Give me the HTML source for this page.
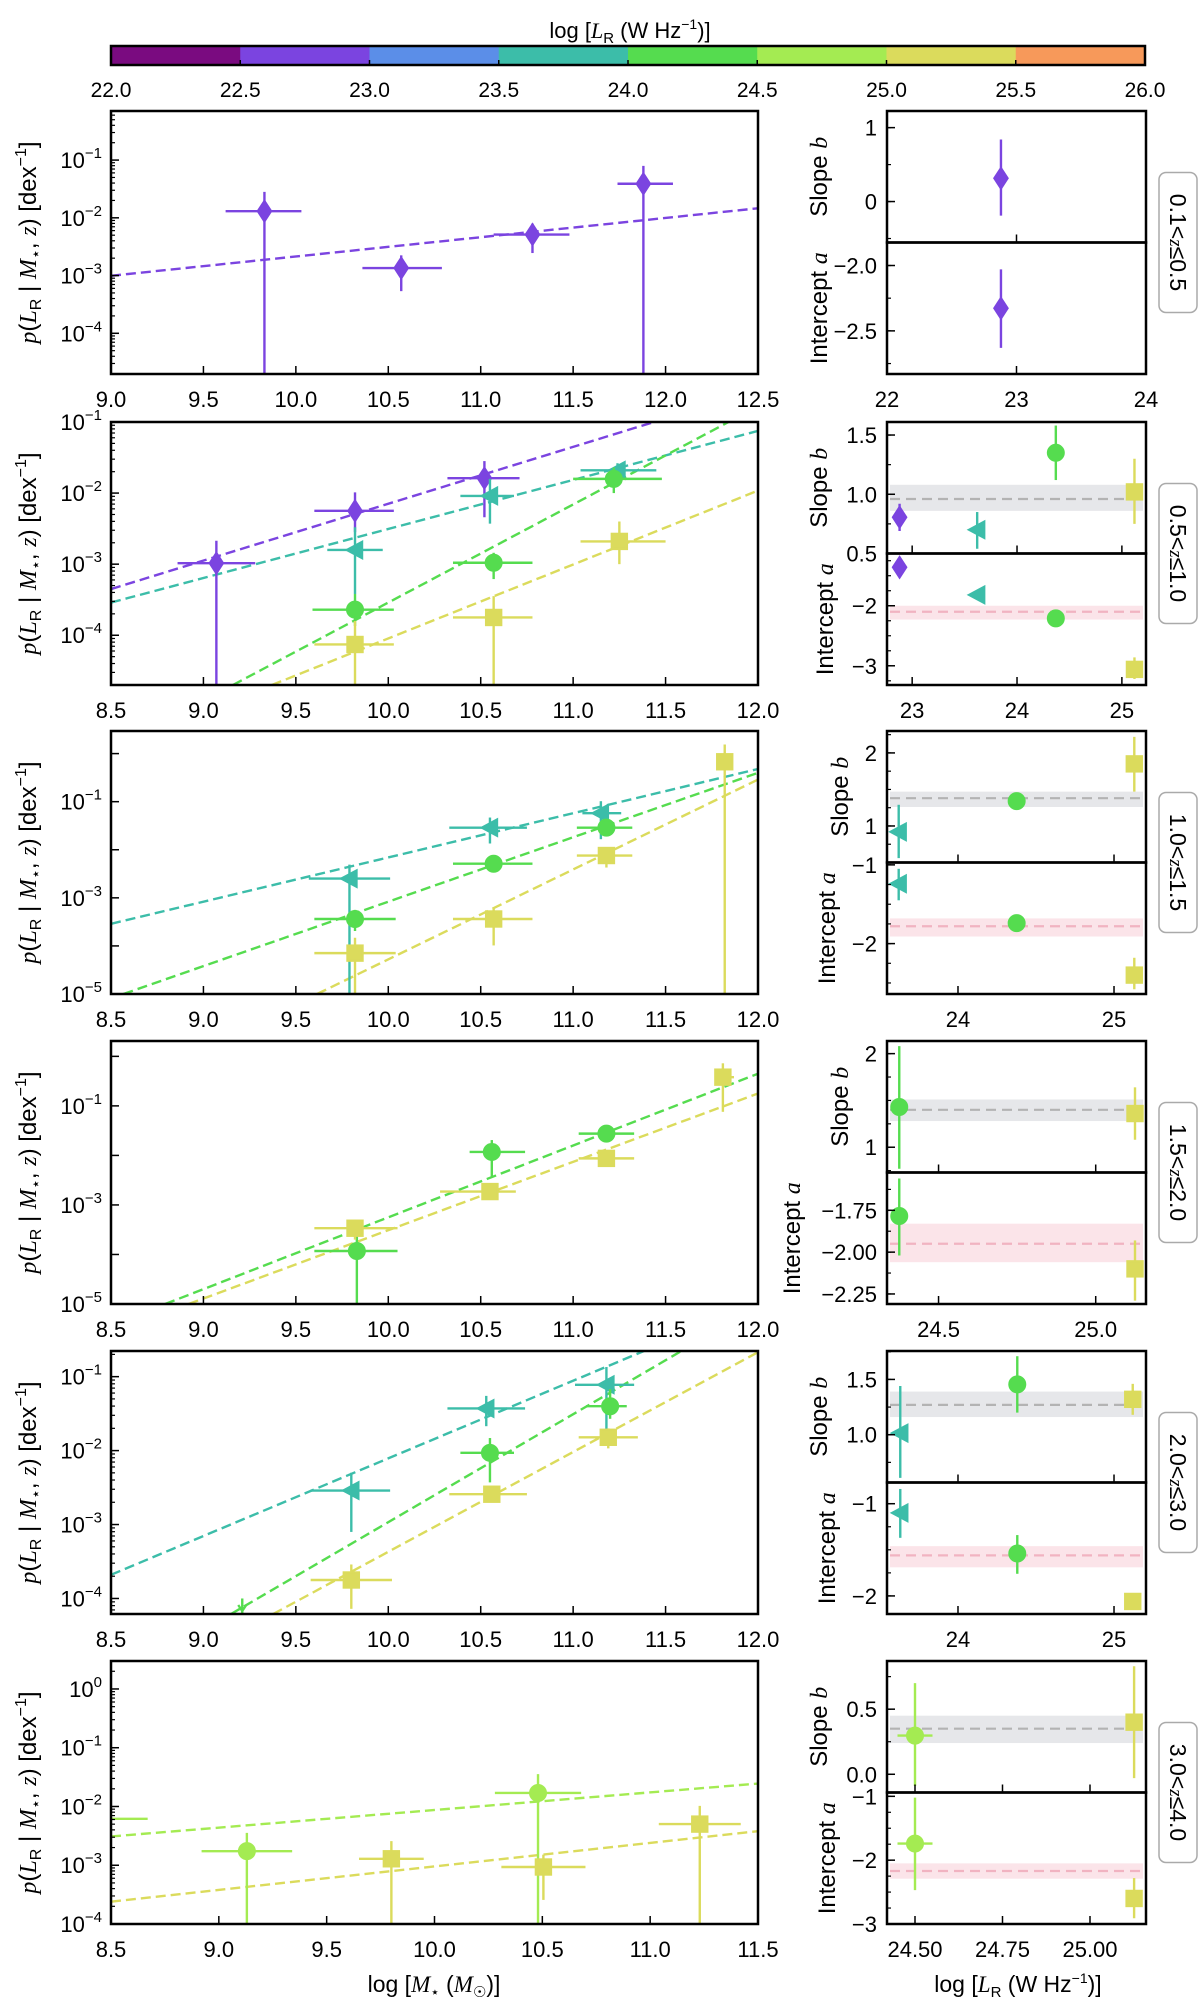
<!DOCTYPE html>
<html><head><meta charset="utf-8">
<style>
html,body{margin:0;padding:0;background:#fff;width:1200px;height:2010px;overflow:hidden;}
svg{display:block;font-family:"Liberation Sans","DejaVu Sans",sans-serif;overflow:hidden;}
.it{font-family:"Liberation Serif",serif;font-style:italic;}
</style></head>
<body>
<svg id="fig" width="1200" height="2010" viewBox="0 0 1200 2010" xmlns="http://www.w3.org/2000/svg">
<g id="cbar"></g>
<text x="630" y="38" text-anchor="middle" font-size="22">log [<tspan class="it">L</tspan><tspan font-size="15" dy="5">R</tspan><tspan dy="-5"> (W Hz</tspan><tspan font-size="14" dy="-9">−1</tspan><tspan dy="9">)]</tspan></text>
<g id="panels"></g>
<g font-size="24">
<text transform="translate(36,242.5) rotate(-90)" text-anchor="middle"><tspan class="it">p</tspan>(<tspan class="it">L</tspan><tspan font-size="16" dy="5">R</tspan><tspan dy="-5"> | </tspan><tspan class="it">M</tspan><tspan font-size="16" dy="5">⋆</tspan><tspan dy="-5">, </tspan><tspan class="it">z</tspan>) [dex<tspan font-size="16" dy="-10">−1</tspan><tspan dy="10">]</tspan></text>
<text transform="translate(36,553.5) rotate(-90)" text-anchor="middle"><tspan class="it">p</tspan>(<tspan class="it">L</tspan><tspan font-size="16" dy="5">R</tspan><tspan dy="-5"> | </tspan><tspan class="it">M</tspan><tspan font-size="16" dy="5">⋆</tspan><tspan dy="-5">, </tspan><tspan class="it">z</tspan>) [dex<tspan font-size="16" dy="-10">−1</tspan><tspan dy="10">]</tspan></text>
<text transform="translate(36,862.5) rotate(-90)" text-anchor="middle"><tspan class="it">p</tspan>(<tspan class="it">L</tspan><tspan font-size="16" dy="5">R</tspan><tspan dy="-5"> | </tspan><tspan class="it">M</tspan><tspan font-size="16" dy="5">⋆</tspan><tspan dy="-5">, </tspan><tspan class="it">z</tspan>) [dex<tspan font-size="16" dy="-10">−1</tspan><tspan dy="10">]</tspan></text>
<text transform="translate(36,1172.5) rotate(-90)" text-anchor="middle"><tspan class="it">p</tspan>(<tspan class="it">L</tspan><tspan font-size="16" dy="5">R</tspan><tspan dy="-5"> | </tspan><tspan class="it">M</tspan><tspan font-size="16" dy="5">⋆</tspan><tspan dy="-5">, </tspan><tspan class="it">z</tspan>) [dex<tspan font-size="16" dy="-10">−1</tspan><tspan dy="10">]</tspan></text>
<text transform="translate(36,1482.5) rotate(-90)" text-anchor="middle"><tspan class="it">p</tspan>(<tspan class="it">L</tspan><tspan font-size="16" dy="5">R</tspan><tspan dy="-5"> | </tspan><tspan class="it">M</tspan><tspan font-size="16" dy="5">⋆</tspan><tspan dy="-5">, </tspan><tspan class="it">z</tspan>) [dex<tspan font-size="16" dy="-10">−1</tspan><tspan dy="10">]</tspan></text>
<text transform="translate(36,1792.5) rotate(-90)" text-anchor="middle"><tspan class="it">p</tspan>(<tspan class="it">L</tspan><tspan font-size="16" dy="5">R</tspan><tspan dy="-5"> | </tspan><tspan class="it">M</tspan><tspan font-size="16" dy="5">⋆</tspan><tspan dy="-5">, </tspan><tspan class="it">z</tspan>) [dex<tspan font-size="16" dy="-10">−1</tspan><tspan dy="10">]</tspan></text>
</g>
<g font-size="24">
<text transform="translate(827,176.75) rotate(-90)" text-anchor="middle">Slope <tspan class="it">b</tspan></text>
<text transform="translate(827,308.25) rotate(-90)" text-anchor="middle">Intercept <tspan class="it">a</tspan></text>
<text transform="translate(827,487.75) rotate(-90)" text-anchor="middle">Slope <tspan class="it">b</tspan></text>
<text transform="translate(833,619.25) rotate(-90)" text-anchor="middle">Intercept <tspan class="it">a</tspan></text>
<text transform="translate(848,796.75) rotate(-90)" text-anchor="middle">Slope <tspan class="it">b</tspan></text>
<text transform="translate(835,928.25) rotate(-90)" text-anchor="middle">Intercept <tspan class="it">a</tspan></text>
<text transform="translate(848,1106.75) rotate(-90)" text-anchor="middle">Slope <tspan class="it">b</tspan></text>
<text transform="translate(800,1238.25) rotate(-90)" text-anchor="middle">Intercept <tspan class="it">a</tspan></text>
<text transform="translate(827,1416.75) rotate(-90)" text-anchor="middle">Slope <tspan class="it">b</tspan></text>
<text transform="translate(835,1548.25) rotate(-90)" text-anchor="middle">Intercept <tspan class="it">a</tspan></text>
<text transform="translate(827,1726.75) rotate(-90)" text-anchor="middle">Slope <tspan class="it">b</tspan></text>
<text transform="translate(835,1858.25) rotate(-90)" text-anchor="middle">Intercept <tspan class="it">a</tspan></text>
</g>
<g font-size="23">
<rect x="1159" y="172.5" width="38" height="140" rx="7" fill="#fff" stroke="#aaa" stroke-width="1.5"/>
<text transform="translate(1170,242.5) rotate(90)" text-anchor="middle">0.1&lt;<tspan class="it" font-size="19">z</tspan>≤0.5</text>
<rect x="1159" y="483.5" width="38" height="140" rx="7" fill="#fff" stroke="#aaa" stroke-width="1.5"/>
<text transform="translate(1170,553.5) rotate(90)" text-anchor="middle">0.5&lt;<tspan class="it" font-size="19">z</tspan>≤1.0</text>
<rect x="1159" y="792.5" width="38" height="140" rx="7" fill="#fff" stroke="#aaa" stroke-width="1.5"/>
<text transform="translate(1170,862.5) rotate(90)" text-anchor="middle">1.0&lt;<tspan class="it" font-size="19">z</tspan>≤1.5</text>
<rect x="1159" y="1102.5" width="38" height="140" rx="7" fill="#fff" stroke="#aaa" stroke-width="1.5"/>
<text transform="translate(1170,1172.5) rotate(90)" text-anchor="middle">1.5&lt;<tspan class="it" font-size="19">z</tspan>≤2.0</text>
<rect x="1159" y="1412.5" width="38" height="140" rx="7" fill="#fff" stroke="#aaa" stroke-width="1.5"/>
<text transform="translate(1170,1482.5) rotate(90)" text-anchor="middle">2.0&lt;<tspan class="it" font-size="19">z</tspan>≤3.0</text>
<rect x="1159" y="1722.5" width="38" height="140" rx="7" fill="#fff" stroke="#aaa" stroke-width="1.5"/>
<text transform="translate(1170,1792.5) rotate(90)" text-anchor="middle">3.0&lt;<tspan class="it" font-size="19">z</tspan>≤4.0</text>
</g>
<text x="434" y="1992" text-anchor="middle" font-size="23">log [<tspan class="it">M</tspan><tspan font-size="15" dy="5">⋆</tspan><tspan dy="-5"> (</tspan><tspan class="it">M</tspan><tspan font-size="15" dy="5">☉</tspan><tspan dy="-5">)]</tspan></text>
<text x="1018" y="1992" text-anchor="middle" font-size="23">log [<tspan class="it">L</tspan><tspan font-size="15" dy="5">R</tspan><tspan dy="-5"> (W Hz</tspan><tspan font-size="14" dy="-9">−1</tspan><tspan dy="9">)]</tspan></text>
</svg>
<script>
// ---------- data ----------
const binColors=['#7a0b80','#7b44e0','#5b8ee8','#3cbda9','#55dc4f','#a4eb52','#dbdb5c','#f7995a'];
const cbarTicks=['22.0','22.5','23.0','23.5','24.0','24.5','25.0','25.5','26.0'];
const ptBin=[[1,1,1,1],[1,1,1,3,3,3,4,4,4,6,6,6],[3,3,3,4,4,4,6,6,6,6],[4,4,4,6,6,6,6],[3,3,3,4,4,6,6,6],[5,5,5,6,6,6]];
const ptX=[[9.83,10.57,11.28,11.88],[9.07,9.82,10.52,9.82,10.55,11.24,9.82,10.57,11.22,9.82,10.57,11.25],[9.79,10.55,11.15,9.82,10.57,11.18,9.82,10.57,11.18,11.82],[9.83,10.56,11.18,9.82,10.55,11.18,11.81],[9.80,10.53,11.18,10.55,11.2,9.80,10.56,11.19],[8.3,9.13,10.48,9.80,10.505,11.23]];
const ptY=[[-1.885,-2.87,-2.29,-1.41],[-2.986,-2.25,-1.79,-2.80,-2.04,-1.68,-3.64,-2.98,-1.80,-4.13,-3.75,-2.68],[-2.60,-1.54,-1.24,-3.44,-2.29,-1.54,-4.15,-3.44,-2.12,-0.17],[-3.93,-1.93,-1.56,-3.47,-2.73,-2.06,-0.42],[-2.54,-1.43,-1.11,-2.03,-1.40,-3.75,-2.59,-1.82],[-2.21,-2.76,-1.77,-2.89,-3.03,-2.30]];
const ptXlo=[[9.62,10.36,11.07,11.74],[8.86,9.60,10.32,9.67,10.39,11.04,9.59,10.35,11.0,9.6,10.35,11.04],[9.57,10.33,11.05,9.6,10.35,11.02,9.6,10.35,11.02,11.80],[9.6,10.44,11.03,9.6,10.28,11.03,11.77],[9.58,10.32,11.01,10.39,11.07,9.58,10.33,11.03],[8.0,8.92,10.28,9.65,10.31,11.04]];
const ptXhi=[[10.03,10.79,11.48,12.04],[9.28,10.03,10.71,9.97,10.68,11.45,10.03,10.78,11.48,10.03,10.78,11.5],[10.01,10.75,11.26,10.04,10.78,11.32,10.04,10.78,11.32,11.84],[10.05,10.74,11.33,10.05,10.69,11.33,11.87],[10.01,10.74,11.33,10.68,11.29,10.02,10.75,11.35],[8.67,9.34,10.68,9.95,10.70,11.42]];
const ptYlo=[[-10,-3.27,-2.61,-10],[-10,-2.55,-2.34,-3.42,-2.43,-1.78,-3.87,-3.21,-2.0,-10,-10,-3.0],[-10,-1.87,-1.78,-3.69,-2.33,-1.72,-10,-3.99,-2.37,-10],[-10,-2.43,-1.62,-3.7,-2.8,-2.16,-1.12],[-3.10,-1.67,-1.72,-2.43,-1.57,-4.14,-2.64,-1.97],[-2.21,-10,-10,-10,-3.59,-10]];
const ptYhi=[[-1.55,-2.65,-2.10,-1.10],[-2.67,-1.99,-1.55,-2.48,-1.80,-1.58,-3.42,-2.84,-1.64,-3.80,-3.45,-2.4],[-2.31,-1.33,-0.99,-3.25,-2.25,-1.37,-3.83,-3.21,-1.96,0.19],[-3.6,-1.69,-1.50,-3.3,-2.66,-1.96,-0.14],[-2.30,-1.26,-0.87,-1.83,-1.17,-3.54,-2.54,-1.70],[-2.21,-2.45,-1.45,-2.59,-2.82,-1.99]];
const limX=[[],[],[],[],[9.21],[]];
const limY=[[],[],[],[],[-4.0],[]];
const limBin=[[],[],[],[],[4],[]];
const lineBin=[[1],[1,3,4,6],[3,4,6],[4,6],[3,4,6],[5,6]];
const lineSlope=[[0.334],[0.80,0.69,1.38,1.04],[0.92,1.34,1.87],[1.45,1.38],[1.05,1.46,1.35],[0.30,0.40]];
const lineAt10=[[-2.67],[-2.15,-2.505,-3.54,-4.045],[-2.16,-3.08,-4.28],[-3.25,-3.51],[-2.105,-2.968,-3.369],[-2.06,-3.02]];
const rBin=[[1],[1,3,4,6],[3,4,6],[4,6],[3,4,6],[5,6]];
const rX=[[22.88],[22.88,23.62,24.37,25.12],[23.62,24.376,25.13],[24.375,25.125],[23.63,24.38,25.12],[24.5,25.126]];
const rXerr=[[0],[0,0,0,0],[0,0,0],[0,0],[0,0,0],[0.05,0]];
const slopeV=[[0.315],[0.806,0.70,1.35,1.02],[0.92,1.34,1.85],[1.43,1.36],[1.015,1.455,1.32],[0.297,0.40]];
const slopeLo=[[-0.19],[0.69,0.54,1.12,0.75],[0.56,1.29,1.47],[0.77,1.08],[0.61,1.20,1.18],[-0.09,-0.03]];
const slopeHi=[[0.84],[0.92,0.85,1.58,1.30],[1.29,1.39,2.22],[2.08,1.64],[1.44,1.71,1.46],[0.70,0.83]];
const interV=[[-2.327],[-1.36,-1.82,-2.21,-3.06],[-1.24,-1.74,-2.40],[-1.784,-2.10],[-1.10,-1.54,-2.06],[-1.74,-2.60]];
const interLo=[[-2.63],[-1.38,-1.84,-2.24,-3.22],[-1.45,-1.76,-2.58],[-2.02,-2.29],[-1.37,-1.76,-2.08],[-2.47,-2.91]];
const interHi=[[-2.03],[-1.34,-1.80,-2.18,-2.86],[-1.05,-1.72,-2.18],[-1.56,-1.93],[-0.84,-1.34,-2.04],[-1.02,-2.28]];
const slopeBand=[null,[0.96,0.86,1.08],[1.38,1.26,1.47],[1.40,1.28,1.51],[1.27,1.16,1.39],[0.35,0.24,0.45]];
const interBand=[null,[-2.10,-2.23,-2.0],[-1.78,-1.91,-1.68],[-1.95,-2.06,-1.83],[-1.56,-1.69,-1.46],[-2.17,-2.29,-2.05]];
const leftXTicks=[['9.0','9.5','10.0','10.5','11.0','11.5','12.0','12.5'],['8.5','9.0','9.5','10.0','10.5','11.0','11.5','12.0'],['8.5','9.0','9.5','10.0','10.5','11.0','11.5','12.0'],['8.5','9.0','9.5','10.0','10.5','11.0','11.5','12.0'],['8.5','9.0','9.5','10.0','10.5','11.0','11.5','12.0'],['8.5','9.0','9.5','10.0','10.5','11.0','11.5']];
const leftYExp=[['-1','-2','-3','-4'],['-1','-2','-3','-4'],['-1','-3','-5'],['-1','-3','-5'],['-1','-2','-3','-4'],['0','-1','-2','-3','-4']];
const rightXTicks=[['22','23','24'],['23','24','25'],['24','25'],['24.5','25.0'],['24','25'],['24.50','24.75','25.00']];
const slopeTicks=[['0','1'],['0.5','1.0','1.5'],['1','2'],['1','2'],['1.0','1.5'],['0.0','0.5']];
const interTicks=[['-2.0','-2.5'],['-2','-3'],['-1','-2'],['-1.75','-2.00','-2.25'],['-1','-2'],['-1','-2','-3']];

// ---------- layout ----------
const TOPS=[111,422,731,1041,1351,1661], H=263, LX0=111, LX1=758, RX0=887, RX1=1146;
const leftXR=[[9,12.5],[8.5,12],[8.5,12],[8.5,12],[8.5,12],[8.5,11.5]];
const leftYR=[[-4.705,-0.15],[-4.70,-1.0],[-5,0.47],[-5,0.31],[-4.21,-0.653],[-4,0.476]];
const leftMinor=[true,true,false,false,true,true];
const rightXR=[[22,24],[22.76,25.23],[23.545,25.205],[24.336,25.16],[23.545,25.205],[24.42,25.16]];
const slopeR=[[-0.554,1.225],[0.5,1.61],[0.5,2.30],[0.73,2.135],[0.568,1.757],[-0.14,0.87]];
const interR=[[-2.83,-1.824],[-3.32,-1.13],[-2.64,-0.97],[-2.31,-1.524],[-2.196,-0.77],[-3.0,-0.94]];
const slopeMinor=[0.5,0.25,0.25,0.25,0.25,0.25];
const interMinor=[0.25,0.25,0.25,0.125,0.25,0.25];

const NS='http://www.w3.org/2000/svg';
function mk(tag,parent,attrs){const e=document.createElementNS(NS,tag);for(const k in attrs)e.setAttribute(k,attrs[k]);parent.appendChild(e);return e;}
function minus(s){return s.replace('-','−');}
function clamp(v,a,b){return Math.max(a,Math.min(b,v));}

const cb=document.getElementById('cbar');
const CB0=111,CB1=1145,CBT=46,CBB=65;
for(let i=0;i<8;i++){
  const w=(CB1-CB0)/8;
  const r=mk('rect',cb,{x:CB0+i*w,y:CBT,width:w+0.5,height:CBB-CBT,fill:binColors[i]});
  
  
}
const cbf=mk('rect',cb,{x:CB0,y:CBT,width:CB1-CB0,height:CBB-CBT,fill:'none',stroke:'#000','stroke-width':2.5});


cbarTicks.forEach((t,i)=>{
  const x=CB0+(parseFloat(t)-22)/4*(CB1-CB0);
  mk('line',cb,{x1:x,x2:x,y1:CBB,y2:CBB-5,stroke:'#000','stroke-width':1.5});
  const tx=mk('text',cb,{x:x,y:97,'text-anchor':'middle','font-size':21});
  tx.textContent=t;
  
  
});

function marker(g,bin,cx,cy){
  const c=binColors[bin];let m;
  if(bin===1) m=mk('polygon',g,{points:`${cx},${cy-10} ${cx+6.5},${cy} ${cx},${cy+10} ${cx-6.5},${cy}`,fill:c});
  else if(bin===3) m=mk('polygon',g,{points:`${cx-8},${cy} ${cx+7},${cy-8} ${cx+7},${cy+8}`,fill:c});
  else if(bin===6) m=mk('rect',g,{x:cx-7.5,y:cy-7.5,width:15,height:15,fill:c});
  else m=mk('circle',g,{cx:cx,cy:cy,r:7.8,fill:c});
  
  
}

const panels=document.getElementById('panels');
for(let r=0;r<6;r++){
  const top=TOPS[r], bot=top+H;
  const g=mk('g',panels,{});
  
  
  const [xa,xb]=leftXR[r],[ya,yb]=leftYR[r];
  const sx=v=>LX0+(v-xa)/(xb-xa)*(LX1-LX0);
  const sy=v=>bot-(v-ya)/(yb-ya)*H;
  const cid='clipL'+r;
  const cp=mk('clipPath',g,{id:cid});mk('rect',cp,{x:LX0,y:top,width:LX1-LX0,height:H});
  const data=mk('g',g,{'clip-path':`url(#${cid})`});
  lineBin[r].forEach((b,i)=>{
    const f=v=>lineAt10[r][i]+lineSlope[r][i]*(v-10);
    // clip line analytically to the y range
    const s=lineSlope[r][i];
    let x1=xa,x2=xb;
    const xAtYa=10+(ya-lineAt10[r][i])/s, xAtYb=10+(yb-lineAt10[r][i])/s;
    x1=Math.max(x1,Math.min(xAtYa,xAtYb)); x2=Math.min(x2,Math.max(xAtYa,xAtYb));
    const l=mk('line',data,{x1:sx(x1),y1:sy(f(x1)),x2:sx(x2),y2:sy(f(x2)),stroke:binColors[b],'stroke-width':2.4,'stroke-dasharray':'10 5'});
    
    
  });
  ptBin[r].forEach((b,i)=>{
    const pg=mk('g',data,{stroke:binColors[b],'stroke-width':2.4});
    
    
    const cx=sx(ptX[r][i]),cy=sy(ptY[r][i]);
    if(ptX[r][i]>=xa){
      mk('line',pg,{x1:sx(clamp(ptXlo[r][i],xa,xb)),x2:sx(clamp(ptXhi[r][i],xa,xb)),y1:cy,y2:cy});
      mk('line',pg,{x1:cx,x2:cx,y1:sy(clamp(ptYlo[r][i],ya,yb)),y2:sy(clamp(ptYhi[r][i],ya,yb))});
      marker(pg,b,cx,cy);
    } else {
      mk('line',pg,{x1:sx(xa),x2:sx(clamp(ptXhi[r][i],xa,xb)),y1:cy,y2:cy});
    }
  });
  limX[r].forEach((x,i)=>{
    const c=binColors[limBin[r][i]];const cx=sx(x),cy=sy(limY[r][i]);
    const a=mk('g',data,{stroke:c,'stroke-width':2.4,fill:'none'});
    
    
    mk('line',a,{x1:cx,x2:cx,y1:cy,y2:bot});
    mk('polyline',a,{points:`${cx-4},${bot-9} ${cx},${bot-3} ${cx+4},${bot-9}`});
  });
  const fr=mk('rect',g,{x:LX0,y:top,width:LX1-LX0,height:H,fill:'none',stroke:'#000','stroke-width':2.5});
  
  
  leftXTicks[r].forEach(t=>{
    const x=sx(parseFloat(t));
    mk('line',g,{x1:x,x2:x,y1:bot,y2:bot-8,stroke:'#000','stroke-width':1.5});
    const tx=mk('text',g,{x:x,y:bot+33,'text-anchor':'middle','font-size':22});
    tx.textContent=t;
    
    
  });
  for(let d=Math.floor(ya);d<=Math.ceil(yb);d++){
    if(d>=ya&&d<=yb) mk('line',g,{x1:LX0,x2:LX0+8,y1:sy(d),y2:sy(d),stroke:'#000','stroke-width':1.5});
    if(leftMinor[r]) for(let k=2;k<10;k++){const v=d+Math.log10(k);if(v>ya&&v<yb)mk('line',g,{x1:LX0,x2:LX0+4,y1:sy(v),y2:sy(v),stroke:'#000','stroke-width':1.2});}
  }
  leftYExp[r].forEach(e=>{
    const y=sy(parseFloat(e));
    const tx=mk('text',g,{x:102,y:y+8,'text-anchor':'end','font-size':22});
    
    
    tx.appendChild(document.createTextNode('10'));
    const sp=mk('tspan',tx,{'font-size':15,dy:-10});sp.textContent=minus(e);
  });
  const mid=top+H/2;
  const rg=mk('g',panels,{});
  
  
  const [ra,rb]=rightXR[r];
  const rx=v=>RX0+(v-ra)/(rb-ra)*(RX1-RX0);
  const subs=[{nm:'slope',y0:top,y1:mid,R:slopeR[r],V:slopeV[r],Lo:slopeLo[r],Hi:slopeHi[r],band:slopeBand[r],ticks:slopeTicks[r],minor:slopeMinor[r],bc:'#e6e7ea',lc:'#b3b3b3'},
              {nm:'intercept',y0:mid,y1:bot,R:interR[r],V:interV[r],Lo:interLo[r],Hi:interHi[r],band:interBand[r],ticks:interTicks[r],minor:interMinor[r],bc:'#fbe4e9',lc:'#f1b3c1'}];
  subs.forEach((s,si)=>{
    const sg=mk('g',rg,{});
    
    
    const ry=v=>s.y1-(clamp(v,s.R[0],s.R[1])-s.R[0])/(s.R[1]-s.R[0])*(s.y1-s.y0);
    const id='clipR'+r+'_'+si;
    const c2=mk('clipPath',sg,{id:id});mk('rect',c2,{x:RX0,y:s.y0,width:RX1-RX0,height:s.y1-s.y0});
    const dg=mk('g',sg,{'clip-path':`url(#${id})`});
    if(s.band){
      const br=mk('rect',dg,{x:RX0+3,y:ry(s.band[2]),width:RX1-RX0-6,height:ry(s.band[1])-ry(s.band[2]),fill:s.bc});
      
      
      const bl=mk('line',dg,{x1:RX0+3,x2:RX1-3,y1:ry(s.band[0]),y2:ry(s.band[0]),stroke:s.lc,'stroke-width':2.2,'stroke-dasharray':'10 6'});
      
      
    }
    rBin[r].forEach((b,i)=>{
      const pg=mk('g',dg,{stroke:binColors[b],'stroke-width':2.4});
      
      
      const cx=rx(rX[r][i]),cy=ry(s.V[i]);
      mk('line',pg,{x1:cx,x2:cx,y1:ry(s.Lo[i]),y2:ry(s.Hi[i])});
      if(rXerr[r][i]>0) mk('line',pg,{x1:rx(rX[r][i]-rXerr[r][i]),x2:rx(rX[r][i]+rXerr[r][i]),y1:cy,y2:cy});
      marker(pg,b,cx,cy);
    });
    const f2=mk('rect',sg,{x:RX0,y:s.y0,width:RX1-RX0,height:s.y1-s.y0,fill:'none',stroke:'#000','stroke-width':2.5});
    
    
    const st=s.minor;
    for(let v=Math.ceil(s.R[0]/st)*st;v<=s.R[1]+1e-9;v+=st) mk('line',sg,{x1:RX0,x2:RX0+4,y1:ry(v),y2:ry(v),stroke:'#000','stroke-width':1.2});
    s.ticks.forEach(t=>{
      const y=ry(parseFloat(t));
      mk('line',sg,{x1:RX0,x2:RX0+8,y1:y,y2:y,stroke:'#000','stroke-width':1.5});
      const tx=mk('text',sg,{x:877,y:y+8,'text-anchor':'end','font-size':22});
      tx.textContent=minus(t);
      
      
    });
    rightXTicks[r].forEach(t=>{
      const x=rx(parseFloat(t));
      mk('line',sg,{x1:x,x2:x,y1:s.y1,y2:s.y1-8,stroke:'#000','stroke-width':1.5});
    });
  });
  rightXTicks[r].forEach(t=>{
    const tx=mk('text',rg,{x:rx(parseFloat(t)),y:bot+33,'text-anchor':'middle','font-size':22});
    tx.textContent=t;
    
    
  });
}
</script>
</body></html>
